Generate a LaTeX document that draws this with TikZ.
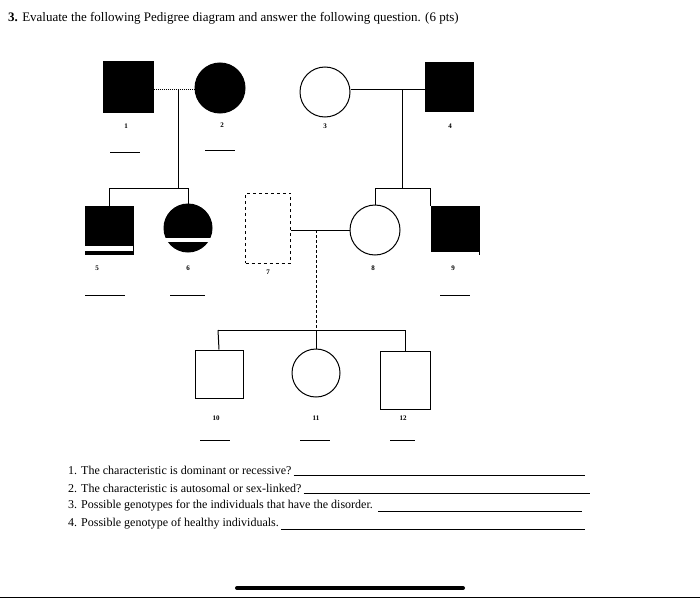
\documentclass[tikz,border=0pt]{standalone}
\usepackage{fontspec}
\setmainfont{Liberation Serif}
\begin{document}
\begin{tikzpicture}[x=1pt,y=-1pt,
  aff/.style={draw=black,fill=black,line width=1pt},
  una/.style={draw=black,fill=white,line width=1pt},
  ln/.style={line width=1pt},
  num/.style={font=\fontsize{7}{8}\selectfont\bfseries},
  q/.style={font=\fontsize{12}{14}\selectfont,anchor=west,inner sep=0pt}]
\useasboundingbox (0,0) rectangle (700,599);
\node[anchor=west,inner sep=0pt,font=\fontsize{13}{15}\selectfont] (title) at (8,18) {\textbf{3.} Evaluate the following Pedigree diagram and answer the following question. (6 pts)};
% generation I
\node[aff,minimum size=50pt,inner sep=0pt] (p1) at (128,87) {};
\node[aff,circle,minimum size=50pt,inner sep=0pt] (p2) at (220,88) {};
\node[una,circle,minimum size=50pt,inner sep=0pt] (p3) at (325,92) {};
\node[aff,minimum size=48pt,inner sep=0pt] (p4) at (449,87) {};
\draw[ln,densely dotted] (p1.east|-0,90) -- (p2.west|-0,90);
\draw[ln] (p3.east|-0,90) -- (p4.west|-0,90);
\coordinate (m12) at (178,90);
\coordinate (m34) at (402,90);
% generation II
\node[aff,minimum size=48pt,inner sep=0pt] (p5) at (109,230) {};
\fill[white] (85,246) rectangle (133,251);
\node[aff,circle,minimum size=48pt,inner sep=0pt] (p6) at (188,228) {};
\fill[white] (164,238) rectangle (212,242);
\node[draw=black,dashed,line width=1pt,minimum width=45pt,minimum height=70pt,inner sep=0pt] (p7) at (268,228) {};
\node[una,circle,minimum size=50pt,inner sep=0pt] (p8) at (375,230) {};
\node[aff,minimum size=48pt,inner sep=0pt] (p9) at (455,230) {};
\fill[white] (431,252) rectangle (479,256);
\draw[ln] (m12) -- (178,188) coordinate (s1);
\draw[ln] (109,188) -- (188,188);
\draw[ln] (109,188) -- (p5.north);
\draw[ln] (188,188) -- (p6.north);
\draw[ln] (m34) -- (402,188);
\draw[ln] (375,188) -- (430,188);
\draw[ln] (375,188) -- (p8.north);
\draw[ln] (430,188) -- (430,206);
\draw[ln] (p7.east|-0,230) -- (p8.west);
\coordinate (m78) at (316,230);
% generation III
\node[una,minimum size=48pt,inner sep=0pt] (p10) at (219,374) {};
\node[una,circle,minimum size=48pt,inner sep=0pt] (p11) at (316,373) {};
\node[una,minimum width=50pt,minimum height=58pt,inner sep=0pt] (p12) at (405,380) {};
\draw[ln,densely dashed] (m78) -- (316,330);
\draw[ln] (218,330) -- (405,330);
\draw[ln] (218,330) -- (p10.north);
\draw[ln] (316,330) -- (p11.north);
\draw[ln] (405,330) -- (p12.north);
% labels
\foreach \n/\x/\y in {1/126/126,2/222/125,3/325/126,4/450/126,5/97/268,6/188/268,7/268/272,8/373/268,9/453/268,10/216/418,11/316/418,12/403/418}
  \node[num] (l\n) at (\x,\y) {\n};
\foreach \a/\b/\y in {110/140/152,205/235/150,85/125/295,170/205/295,440/470/295,200/230/440,300/330/440,390/415/440}
  \draw[line width=0.8pt] (\a,\y) -- (\b,\y);
% questions
\node[q] (q1) at (68,470) {1. The characteristic is dominant or recessive?};
\node[q] (q2) at (68,488) {2. The characteristic is autosomal or sex-linked?};
\node[q] (q3) at (68,506) {3. Possible genotypes for the individuals that have the disorder.};
\node[q] (q4) at (68,524) {4. Possible genotype of healthy individuals.};
\draw[line width=0.5pt] (q1.east) ++(2,5) -- (585,475);
\draw[line width=0.5pt] (q2.east) ++(2,5) -- (590,493);
\draw[line width=0.5pt] (q3.east) ++(5,5) -- (582,511);
\draw[line width=0.5pt] (q4.east) ++(2,5) -- (585,529);
% bottom bars
\draw[line width=4pt,line cap=round] (237,588) -- (463,588);
\draw[line width=0.8pt] (0,597) -- (700,597);
\end{tikzpicture}
\end{document}
